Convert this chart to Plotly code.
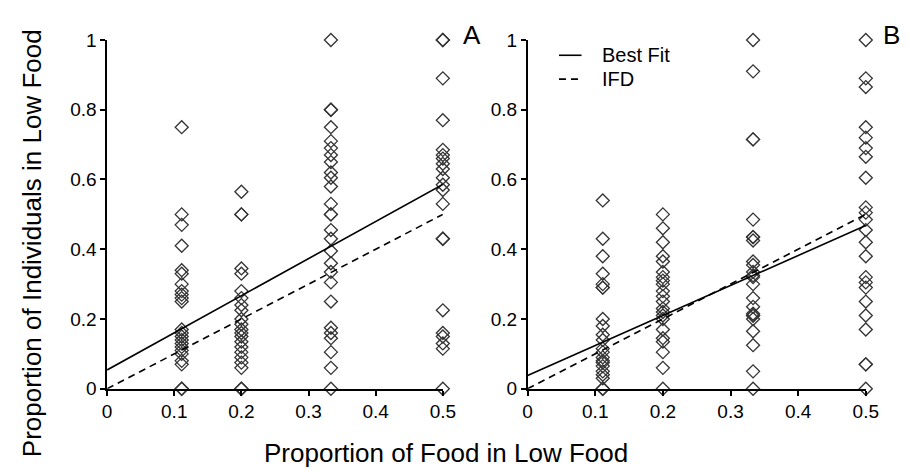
import plotly.graph_objects as go

# ---------------- data ----------------
food_levels = [1/9, 0.2, 1/3, 0.5]

# Panel A: proportion of individuals in low food, per food level
a_011 = [0.75, 0.50, 0.47, 0.41, 0.34, 0.33, 0.30, 0.28, 0.27, 0.26, 0.25,
         0.17, 0.16, 0.15, 0.14, 0.13, 0.12, 0.11, 0.10, 0.08, 0.07, 0.0, 0.0]
a_020 = [0.565, 0.50, 0.50, 0.345, 0.33, 0.28, 0.26, 0.24, 0.225, 0.20, 0.185,
         0.17, 0.16, 0.15, 0.135, 0.12, 0.105, 0.09, 0.075, 0.06, 0.0, 0.0]
a_033 = [1.0, 0.80, 0.80, 0.75, 0.71, 0.69, 0.67, 0.65, 0.62, 0.605, 0.58,
         0.53, 0.50, 0.50, 0.455, 0.43, 0.395, 0.36, 0.335, 0.305, 0.25,
         0.175, 0.16, 0.145, 0.105, 0.06, 0.0]
a_050 = [1.0, 1.0, 0.89, 0.77, 0.685, 0.67, 0.66, 0.645, 0.63, 0.605, 0.585,
         0.57, 0.53, 0.43, 0.43, 0.225, 0.16, 0.15, 0.13, 0.115, 0.0]

# Panel B
b_011 = [0.54, 0.43, 0.38, 0.33, 0.30, 0.29, 0.29, 0.20, 0.18, 0.155, 0.14,
         0.115, 0.105, 0.09, 0.08, 0.075, 0.065, 0.05, 0.04, 0.03, 0.0, 0.0]
b_020 = [0.50, 0.46, 0.42, 0.38, 0.365, 0.335, 0.32, 0.31, 0.30, 0.28, 0.265,
         0.25, 0.23, 0.22, 0.21, 0.20, 0.17, 0.145, 0.135, 0.105, 0.06, 0.0]
b_033 = [1.0, 0.91, 0.715, 0.715, 0.485, 0.435, 0.435, 0.425, 0.365, 0.355,
         0.335, 0.325, 0.32, 0.30, 0.26, 0.235, 0.215, 0.21, 0.21, 0.20,
         0.165, 0.125, 0.05, 0.0]
b_050 = [1.0, 0.89, 0.865, 0.75, 0.72, 0.69, 0.665, 0.605, 0.52, 0.505, 0.485,
         0.455, 0.42, 0.38, 0.32, 0.305, 0.29, 0.25, 0.21, 0.17, 0.07, 0.07, 0.0]

# Lines
line_x = [0.0, 0.5]
fit_a = [0.054, 0.586]
fit_b = [0.038, 0.468]
ifd = [0.0, 0.5]

legend_labels = ["Best Fit", "IFD"]

x_ticks = [0, 0.1, 0.2, 0.3, 0.4, 0.5]
x_ticklabels = ["0", "0.1", "0.2", "0.3", "0.4", "0.5"]
y_ticks = [0, 0.2, 0.4, 0.6, 0.8, 1]
y_ticklabels = ["0", "0.2", "0.4", "0.6", "0.8", "1"]

# ---------------- figure ----------------
W, H = 910, 473
FONT = "Liberation Sans, Arial, sans-serif"
DASH = "7px,5px"
fig = go.Figure()

def add_points(groups, xa, ya):
    xs, ys = [], []
    for lvl, vals in zip(food_levels, groups):
        xs += [lvl] * len(vals)
        ys += vals
    fig.add_trace(go.Scatter(
        x=xs, y=ys, xaxis=xa, yaxis=ya, mode="markers", showlegend=False,
        cliponaxis=False,
        marker=dict(symbol="diamond-open", size=10, color="#333333",
                    line=dict(width=1.3, color="#333333")),
        hoverinfo="x+y"))

add_points([a_011, a_020, a_033, a_050], "x", "y")
add_points([b_011, b_020, b_033, b_050], "x2", "y2")

fig.add_trace(go.Scatter(x=line_x, y=fit_a, mode="lines", xaxis="x", yaxis="y",
                         line=dict(color="black", width=1.6), showlegend=False))
fig.add_trace(go.Scatter(x=line_x, y=ifd, mode="lines", xaxis="x", yaxis="y",
                         line=dict(color="black", width=1.6, dash=DASH),
                         showlegend=False))
fig.add_trace(go.Scatter(x=line_x, y=fit_b, mode="lines", xaxis="x2", yaxis="y2",
                         name=legend_labels[0], showlegend=False,
                         line=dict(color="black", width=1.6)))
fig.add_trace(go.Scatter(x=line_x, y=ifd, mode="lines", xaxis="x2", yaxis="y2",
                         name=legend_labels[1], showlegend=False,
                         line=dict(color="black", width=1.6, dash=DASH)))

def px_x(p):
    return p / W

def px_y(p):
    return 1 - p / H

ydom = [px_y(388), px_y(23)]
axis_common = dict(showgrid=False, zeroline=False, showline=True,
                   linecolor="black", linewidth=1.5, ticks="outside",
                   ticklen=5, tickwidth=1.5, tickcolor="black",
                   tickfont=dict(family=FONT, size=19, color="black"))

# legend key (drawn in the panel-B corner)
legend_shapes = [
    dict(type="line", xref="paper", yref="paper",
         x0=px_x(557), x1=px_x(580), y0=px_y(39), y1=px_y(39),
         line=dict(color="black", width=1.6)),
    dict(type="line", xref="paper", yref="paper",
         x0=px_x(557), x1=px_x(581), y0=px_y(64), y1=px_y(64),
         line=dict(color="black", width=1.6, dash=DASH)),
]
legend_ann = [
    dict(text=legend_labels[0], x=px_x(599), y=px_y(39), xref="paper",
         yref="paper", xanchor="left", yanchor="middle", showarrow=False,
         font=dict(family=FONT, size=20)),
    dict(text=legend_labels[1], x=px_x(599), y=px_y(64), xref="paper",
         yref="paper", xanchor="left", yanchor="middle", showarrow=False,
         font=dict(family=FONT, size=20)),
]

fig.update_layout(
    width=W, height=H,
    margin=dict(l=0, r=0, t=0, b=0),
    paper_bgcolor="white", plot_bgcolor="white",
    font=dict(family=FONT, color="black"),
    showlegend=False,
    xaxis=dict(domain=[px_x(96), px_x(438.5)], range=[0, 0.5], anchor="y",
               tickvals=x_ticks, ticktext=x_ticklabels, **axis_common),
    yaxis=dict(domain=ydom, range=[0, 1], anchor="x",
               tickvals=y_ticks, ticktext=y_ticklabels, **axis_common),
    xaxis2=dict(domain=[px_x(525), px_x(870)], range=[0, 0.5], anchor="y2",
                tickvals=x_ticks, ticktext=x_ticklabels, **axis_common),
    yaxis2=dict(domain=ydom, range=[0, 1], anchor="x2",
                tickvals=y_ticks, ticktext=y_ticklabels, **axis_common),
    shapes=legend_shapes,
    annotations=[
        dict(text="Proportion of Individuals in Low Food", textangle=-90,
             x=px_x(19), y=px_y(236), xref="paper", yref="paper",
             xanchor="center", yanchor="middle",
             showarrow=False, font=dict(family=FONT, size=26)),
        dict(text="Proportion of Food in Low Food",
             x=px_x(442), y=px_y(455), xref="paper", yref="paper",
             xanchor="center", yanchor="middle",
             showarrow=False, font=dict(family=FONT, size=26)),
        dict(text="A", x=px_x(468.5), y=px_y(18), xref="paper", yref="paper",
             xanchor="center", yanchor="middle",
             showarrow=False, font=dict(family=FONT, size=26)),
        dict(text="B", x=px_x(896), y=px_y(18), xref="paper", yref="paper",
             xanchor="center", yanchor="middle",
             showarrow=False, font=dict(family=FONT, size=26)),
    ] + legend_ann,
)

fig.write_html("out.html")
